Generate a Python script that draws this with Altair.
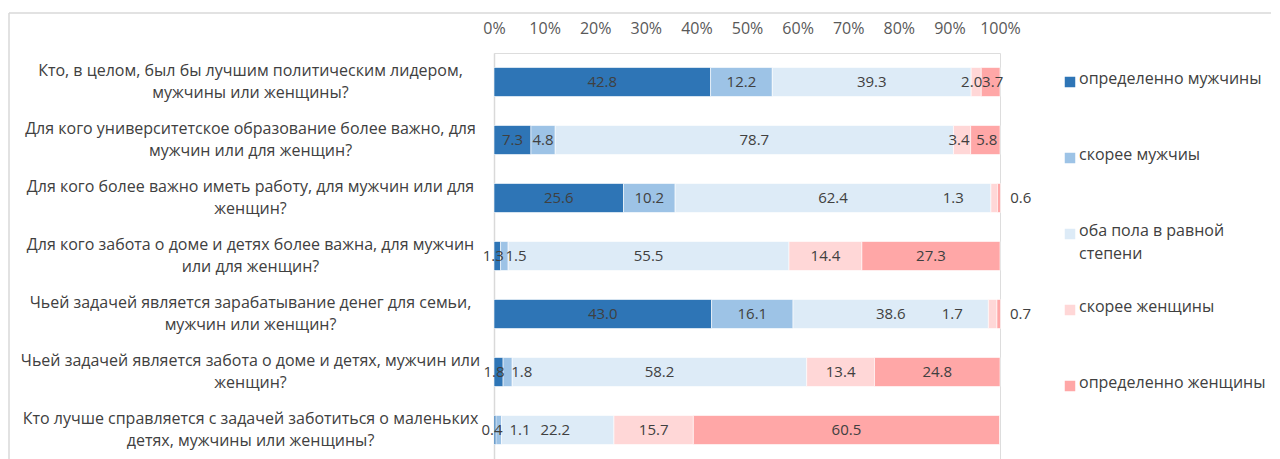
import altair as alt
import pandas as pd

questions = [
    "Кто, в целом, был бы лучшим политическим лидером,|мужчины или женщины?",
    "Для кого университетское образование более важно, для|мужчин или для женщин?",
    "Для кого более важно иметь работу, для мужчин или для|женщин?",
    "Для кого забота о доме и детях более важна, для мужчин|или для женщин?",
    "Чьей задачей является зарабатывание денег для семьи,|мужчин или женщин?",
    "Чьей задачей является забота о доме и детях, мужчин или|женщин?",
    "Кто лучше справляется с задачей заботиться о маленьких|детях, мужчины или женщины?",
]

categories = [
    "определенно мужчины",
    "скорее мужчиы",
    "оба пола в равной степени",
    "скорее женщины",
    "определенно женщины",
]
legend_labels = [
    "определенно мужчины",
    "скорее мужчиы",
    "оба пола в равной|степени",
    "скорее женщины",
    "определенно женщины",
]
colors = ["#2E75B6", "#9DC3E6", "#DDEBF7", "#FFD7D7", "#FFA7A7"]

definitely_men = [42.8, 7.3, 25.6, 1.3, 43.0, 1.8, 0.4]
rather_men = [12.2, 4.8, 10.2, 1.5, 16.1, 1.8, 1.1]
both_equal = [39.3, 78.7, 62.4, 55.5, 38.6, 58.2, 22.2]
rather_women = [2.0, 3.4, 1.3, 14.4, 1.7, 13.4, 15.7]
definitely_women = [3.7, 5.8, 0.6, 27.3, 0.7, 24.8, 60.5]

series = [definitely_men, rather_men, both_equal, rather_women, definitely_women]

# label nudges (in axis % units) for tiny segments, as Excel moved them
label_nudge = {
    (0, 3): -0.9, (0, 4): 0.4,
    (1, 3): -0.6, (1, 4): 0.3,
    (2, 3): -8.1, (2, 4): 4.3,
    (4, 3): -8.0, (4, 4): 4.3,
    (3, 0): -0.8, (3, 1): 2.3,
    (5, 0): -0.9, (5, 1): 2.8,
    (6, 0): -0.6, (6, 1): 4.2, (6, 2): -0.5,
}

rows = []
for ci, (cat, vals) in enumerate(zip(categories, series)):
    for qi, (q, v) in enumerate(zip(questions, vals)):
        rows.append({"q": q, "cat": cat, "value": v, "order": ci,
                     "nudge": label_nudge.get((qi, ci), 0.0)})
df = pd.DataFrame(rows)

leg_df = pd.DataFrame({"cat": categories, "label": legend_labels})

FONT = "Open Sans"
TXT = "#404040"
AXC = "#595959"
FS = 16
FS_DATA = 15

color_scale = alt.Scale(domain=categories, range=colors)
y_scale = alt.Scale(paddingInner=0.5, paddingOuter=0.25)
x_scale = alt.Scale(domain=[0, 100], nice=False)

y_enc = alt.Y(
    "q:N", sort=questions, scale=y_scale,
    axis=alt.Axis(
        title=None, orient="left", labelExpr="split(datum.label, '|')",
        labelAlign="center", labelBaseline="middle", labelPadding=244,
        labelOffset=-11, labelLineHeight=22, labelLimit=0, labelFont=FONT,
        labelFontSize=FS, labelColor=TXT, ticks=False, tickSize=0, domain=True,
        domainColor="#D9D9D9", domainWidth=1.5, grid=False,
    ),
)

bars = alt.Chart(df).mark_bar(stroke="white", strokeWidth=0.6).encode(
    y=y_enc,
    x=alt.X(
        "value:Q", stack="zero", scale=x_scale,
        axis=alt.Axis(
            title=None, orient="top", values=list(range(0, 101, 10)),
            labelExpr="datum.value + '%'", labelFont=FONT, labelFontSize=FS,
            labelColor=AXC, ticks=False, tickSize=0, domain=False, grid=False,
            labelPadding=17, labelOverlap=False, labelFlush=False,
        ),
    ),
    color=alt.Color("cat:N", scale=color_scale, legend=None),
    order=alt.Order("order:Q"),
)

labels = alt.Chart(df).transform_stack(
    stack="value", groupby=["q"], sort=[alt.SortField("order")], as_=["x0", "x1"]
).transform_calculate(
    mid="(datum.x0 + datum.x1) / 2 + datum.nudge"
).mark_text(font=FONT, fontSize=FS_DATA, color=TXT, baseline="middle").encode(
    y=alt.Y("q:N", sort=questions),
    x=alt.X("mid:Q", scale=x_scale),
    text=alt.Text("value:Q", format=".1f"),
)

main = alt.layer(bars, labels)

leg_y = alt.Y("cat:N", sort=categories,
              scale=alt.Scale(type="point", domain=categories, range=[29, 333], padding=0),
              axis=None)

leg_sq = alt.Chart(leg_df).mark_square(size=110, opacity=1).encode(
    x=alt.value(576), y=leg_y,
    color=alt.Color("cat:N", scale=color_scale, legend=None),
)
leg_txt = alt.Chart(leg_df).transform_calculate(
    lines="split(datum.label, '|')"
).mark_text(font=FONT, fontSize=FS, color=TXT, align="left", baseline="top",
            dy=-11, lineHeight=23).encode(
    x=alt.value(585), y=leg_y, text="lines:N",
)

border_data = alt.Data(values=[{}])
border_left = alt.Chart(border_data).mark_rule(color="#D9D9D9", strokeWidth=1.5).encode(
    x=alt.value(-485), y=alt.value(-40), y2=alt.value(410))
border_top = alt.Chart(border_data).mark_rule(color="#D9D9D9", strokeWidth=1.5).encode(
    x=alt.value(-485), x2=alt.value(777), y=alt.value(-40))

chart = alt.layer(main, leg_sq, leg_txt, border_left, border_top).resolve_scale(
    y="independent"
).properties(
    width=506, height=406,
    padding={"left": 0, "top": 4, "right": 0, "bottom": 0},
).configure_view(stroke=None).configure(background="white")

chart.save("out.html", embed_options={"renderer": "svg", "actions": False})
